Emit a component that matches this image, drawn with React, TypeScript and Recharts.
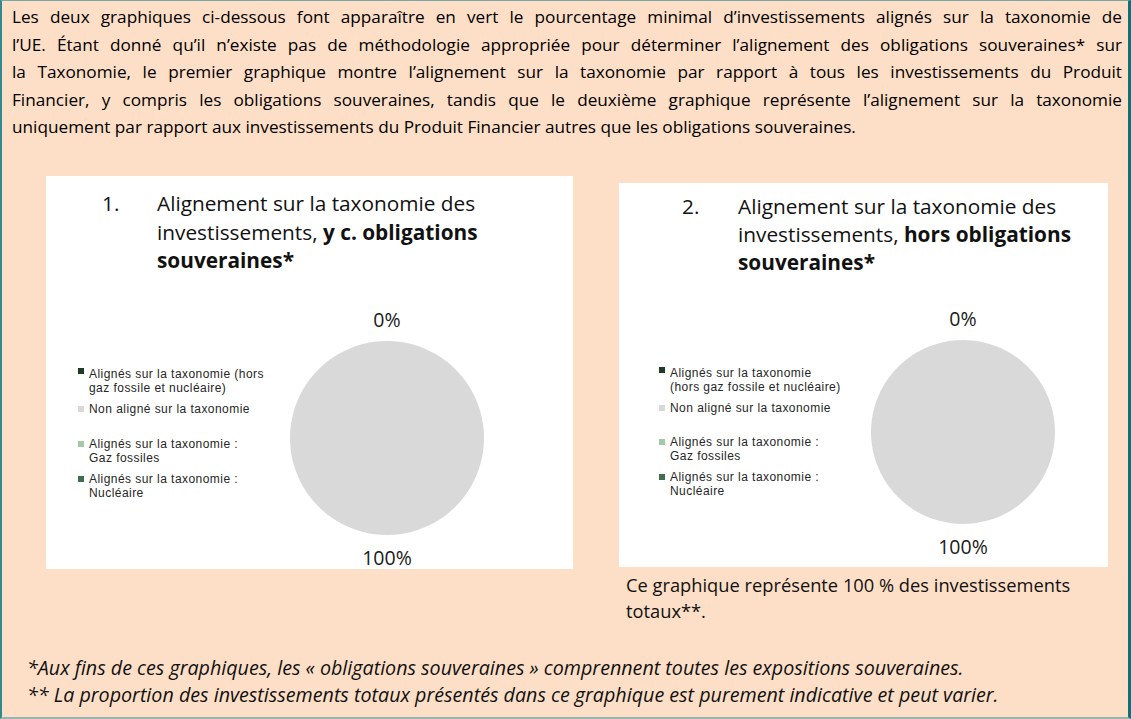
import React from 'react';
import { PieChart, Pie, Cell, Legend } from 'recharts';

const introLines = [
  'Les deux graphiques ci-dessous font apparaître en vert le pourcentage minimal d’investissements alignés sur la taxonomie de',
  'l’UE. Étant donné qu’il n’existe pas de méthodologie appropriée pour déterminer l’alignement des obligations souveraines* sur',
  'la Taxonomie, le premier graphique montre l’alignement sur la taxonomie par rapport à tous les investissements du Produit',
  'Financier, y compris les obligations souveraines, tandis que le deuxième graphique représente l’alignement sur la taxonomie',
  'uniquement par rapport aux investissements du Produit Financier autres que les obligations souveraines.',
];

const categories = [
  'Alignés sur la taxonomie (hors gaz fossile et nucléaire)',
  'Non aligné sur la taxonomie',
  'Alignés sur la taxonomie : Gaz fossiles',
  'Alignés sur la taxonomie : Nucléaire',
];
const sliceColors = ['#1f3b28', '#d9d9d9', '#a3c9a8', '#3f6e4c'];

const valuesWithSovereign = [0, 100, 0, 0];
const valuesWithoutSovereign = [0, 100, 0, 0];

const legendLines1 = [
  ['Alignés sur la taxonomie (hors', 'gaz fossile et nucléaire)'],
  ['Non aligné sur la taxonomie'],
  ['Alignés sur la taxonomie :', 'Gaz fossiles'],
  ['Alignés sur la taxonomie :', 'Nucléaire'],
];
const legendLines2 = [
  ['Alignés sur la taxonomie', '(hors gaz fossile et nucléaire)'],
  ['Non aligné sur la taxonomie'],
  ['Alignés sur la taxonomie :', 'Gaz fossiles'],
  ['Alignés sur la taxonomie :', 'Nucléaire'],
];

const title1 = [
  [{ t: 'Alignement sur la taxonomie des', b: false }],
  [{ t: 'investissements, ', b: false }, { t: 'y c. obligations', b: true }],
  [{ t: 'souveraines*', b: true }],
];
const title2 = [
  [{ t: 'Alignement sur la taxonomie des', b: false }],
  [{ t: 'investissements, ', b: false }, { t: 'hors obligations', b: true }],
  [{ t: 'souveraines*', b: true }],
];

const noteLines = ['Ce graphique représente 100 % des investissements', 'totaux**.'];
const footnotes = [
  '*Aux fins de ces graphiques, les « obligations souveraines » comprennent toutes les expositions souveraines.',
  '** La proportion des investissements totaux présentés dans ce graphique est purement indicative et peut varier.',
];

const FONT = '"Open Sans", Lato, sans-serif';
const LEGEND_FONT = '"Liberation Sans", Arial, sans-serif';
const RAD = Math.PI / 180;

const renderPctLabel = (props: any) => {
  const { cx, cy, midAngle, outerRadius, percent, value, index, payload } = props;
  const vals: number[] = payload?.allValues || [];
  // only one "0%" for the stacked empty slices at the top
  if (value === 0 && vals.findIndex((v) => v === 0) !== index) return null;
  const r = outerRadius + 22;
  const x = cx + r * Math.cos(-midAngle * RAD);
  const y = cy + r * Math.sin(-midAngle * RAD);
  return (
    <text x={x} y={y} textAnchor="middle" dominantBaseline="central" fill="#1a1a1a" fontSize={19.5} fontFamily={FONT}>
      {`${Math.round(percent * 100)}%`}
    </text>
  );
};

interface PanelProps {
  left: number;
  top: number;
  width: number;
  height: number;
  num: string;
  numX: number;
  titleX: number;
  titleTop: number;
  titleLh: number;
  title: { t: string; b: boolean }[][];
  values: number[];
  legendLines: string[][];
  legendX: number;
  legendTop: number;
  legendStep: number;
  cx: number;
  cy: number;
  radius: number;
}

const Panel: React.FC<PanelProps> = (p) => {
  const data = categories.map((name, i) => ({ name, value: p.values[i], allValues: p.values }));

  const LegendContent = () => (
    <div style={{ fontFamily: LEGEND_FONT, fontSize: 12, letterSpacing: 0.45, color: '#262626', lineHeight: '14px' }}>
      {p.legendLines.map((lines, i) => (
        <div key={i} style={{ position: 'relative', height: p.legendStep }}>
          <span
            style={{
              position: 'absolute',
              left: -11,
              top: i === 0 ? 1 : 4,
              width: 6,
              height: 6,
              background: sliceColors[i],
            }}
          />
          {lines.map((l, j) => (
            <div key={j} style={{ whiteSpace: 'nowrap', height: 14 }}>{l}</div>
          ))}
        </div>
      ))}
    </div>
  );

  return (
    <div
      style={{
        position: 'absolute',
        left: p.left,
        top: p.top,
        width: p.width,
        height: p.height,
        background: '#ffffff',
      }}
    >
      <div style={{ position: 'absolute', left: p.numX, top: p.titleTop, fontFamily: FONT, fontSize: 20.8, lineHeight: `${p.titleLh}px`, color: '#111' }}>
        {p.num}
      </div>
      <div style={{ position: 'absolute', left: p.titleX, top: p.titleTop, fontFamily: FONT, fontSize: 20.8, lineHeight: `${p.titleLh}px`, color: '#111', whiteSpace: 'nowrap' }}>
        {p.title.map((line, i) => (
          <div key={i}>
            {line.map((s, j) => (
              <span key={j} style={{ fontWeight: s.b ? 700 : 400 }}>{s.t}</span>
            ))}
          </div>
        ))}
      </div>
      <div style={{ position: 'absolute', left: 0, top: 0 }}>
        <PieChart width={p.width} height={p.height} margin={{ top: 0, right: 0, bottom: 0, left: 0 }}>
          <Pie
            data={data}
            dataKey="value"
            nameKey="name"
            cx={p.cx}
            cy={p.cy}
            outerRadius={p.radius}
            startAngle={90}
            endAngle={-270}
            stroke="none"
            labelLine={false}
            label={renderPctLabel}
            isAnimationActive={false}
          >
            {data.map((entry, index) => (
              <Cell key={`cell-${index}`} fill={sliceColors[index]} />
            ))}
          </Pie>
          <Legend
            layout="vertical"
            align="center"
            verticalAlign="middle"
            content={<LegendContent />}
            wrapperStyle={{ left: p.legendX, top: p.legendTop, width: 240, height: 'auto' }}
          />
        </PieChart>
      </div>
    </div>
  );
};

const App: React.FC = () => {
  return (
    <div
      style={{
        position: 'absolute',
        left: 0,
        top: 0,
        width: 1131,
        height: 719,
        boxSizing: 'border-box',
        background: '#fddfc7',
        borderLeft: '2px solid #2f8a90',
        borderRight: '3px solid #116f78',
        borderTop: '1px solid #7aa6a6',
        borderBottom: '2px solid #97b6b0',
        fontFamily: FONT,
        color: '#000',
        overflow: 'hidden',
      }}
    >
      <div style={{ position: 'absolute', left: 10, top: 2, width: 1110, fontSize: 17.2, lineHeight: '27.5px' }}>
        {introLines.map((l, i) => (
          <div
            key={i}
            style={{
              textAlign: i < introLines.length - 1 ? 'justify' : 'left',
              textAlignLast: i < introLines.length - 1 ? 'justify' : 'left',
              whiteSpace: 'nowrap',
            }}
          >
            {l}
          </div>
        ))}
      </div>

      <Panel
        left={44}
        top={175}
        width={527}
        height={393}
        num="1."
        numX={56}
        titleX={111}
        titleTop={13}
        titleLh={28.5}
        title={title1}
        values={valuesWithSovereign}
        legendLines={legendLines1}
        legendX={43}
        legendTop={191}
        legendStep={35}
        cx={341}
        cy={262}
        radius={97}
      />

      <Panel
        left={617}
        top={182}
        width={489}
        height={384}
        num="2."
        numX={63}
        titleX={119}
        titleTop={10}
        titleLh={27.8}
        title={title2}
        values={valuesWithoutSovereign}
        legendLines={legendLines2}
        legendX={51}
        legendTop={183}
        legendStep={34.5}
        cx={344}
        cy={249}
        radius={92}
      />

      <div style={{ position: 'absolute', left: 624, top: 571, fontSize: 18.3, lineHeight: '26px', color: '#111' }}>
        {noteLines.map((l, i) => (
          <div key={i}>{l}</div>
        ))}
      </div>

      <div style={{ position: 'absolute', left: 25, top: 654, fontSize: 19.7, lineHeight: '26.7px', fontStyle: 'italic', color: '#111' }}>
        {footnotes.map((l, i) => (
          <div key={i} style={{ whiteSpace: 'nowrap' }}>{l}</div>
        ))}
      </div>
    </div>
  );
};

export default App;
